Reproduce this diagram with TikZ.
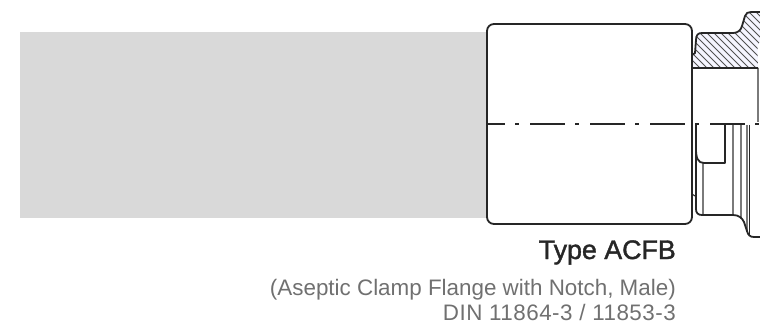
\documentclass[tikz,border=0pt]{standalone}
\usepackage{fontspec}
\setmainfont{Liberation Sans}
\newfontfamily\medfont[FakeBold=1.4]{Liberation Sans}
\definecolor{band}{HTML}{D9D9D9}
\definecolor{ink}{HTML}{262626}
\definecolor{thin}{HTML}{7A7A7A}
\definecolor{sub}{HTML}{707070}
\tikzset{
  heavy/.style={draw=ink,line width=1.8pt,line join=round},
  light/.style={draw=thin,line width=1.2pt},
  hatch/.style={draw=ink!80,line width=0.9pt},
  axis/.style={draw=ink,line width=1.1pt,dash pattern=on 35pt off 10pt on 4pt off 11pt,dash phase=17pt},
  title/.style={anchor=base east,inner sep=0pt,text=ink,font=\medfont\fontsize{26.8}{30}\selectfont},
  caption/.style={anchor=base east,inner sep=0pt,text=sub,font=\fontsize{22.4}{26}\selectfont}
}
\begin{document}
\begin{tikzpicture}[x=1pt,y=-1pt]
\useasboundingbox (0,0) rectangle (760,326);
\clip (0,0) rectangle (760,326);
\fill[band] (20,32) rectangle (487,218);
\fill[white] (487,24) rectangle (692,224);
% hatched section
\begin{scope}
\clip (692,68) -- (692,55) -- (695,53) -- (696,40) .. controls (696,35) and (698,33) .. (702,33) -- (733,33) .. controls (738,33) and (741,30) .. (742,26) -- (745,16) .. controls (746,13) and (748,12) .. (751,12) -- (760,12) -- (760,41) -- (757.5,46) -- (758,68) -- cycle;
\fill[blue!4] (690,10) rectangle (760,70);
\foreach \s in {0,7,...,120}{
  \draw[hatch] (640+\s,8) -- (710+\s,78);
}
\end{scope}
% thin body lines
\draw[light] (703,163) -- (703,215);
\draw[light] (733,125) -- (733,215);
\draw[light] (741,125) -- (741,219);
\draw[light] (747,125) -- (747,232);
\draw[light] (758,68) -- (758,122);
% heavy outlines
\draw[heavy,rounded corners=7pt] (487,24) rectangle (692,224);
\draw[heavy] (760,12) -- (751,12) .. controls (748,12) and (746,13) .. (745,16) -- (742,26) .. controls (741,30) and (738,33) .. (733,33) -- (702,33) .. controls (698,33) and (696,35) .. (696,40) -- (695,53) -- (692,55) -- (692,68) -- (758,68);
\draw[draw=white,line width=2pt] (692,68) -- (692,72);
\draw[heavy] (692,68) -- (692,122);
\draw[heavy] (696,125) -- (696,149) .. controls (696,158) and (698,163) .. (704,163) -- (725,163) -- (725,125);
\draw[heavy] (696,149) -- (696,209) .. controls (696,213) and (698,215) .. (702,215) -- (733,215) .. controls (739,215) and (742,218) .. (744,222) -- (747,231) .. controls (748,235) and (750,237) .. (754,237) -- (760,237);
\draw[heavy,line width=1.3pt] (749.5,125) -- (749.5,235);
\draw[heavy,line width=1pt] (692,194) -- (695,196);
% centre line
\draw[axis] (487,124) -- (760,124);
% labels
\node[title] (t1) at (676,259) {Type ACFB};
\node[caption] (t2) at (676,295) {(Aseptic Clamp Flange with Notch, Male)};
\node[caption] (t3) at (676,320) {\addfontfeature{LetterSpace=2.2}DIN 11864-3 / 11853-3};
\end{tikzpicture}
\end{document}
